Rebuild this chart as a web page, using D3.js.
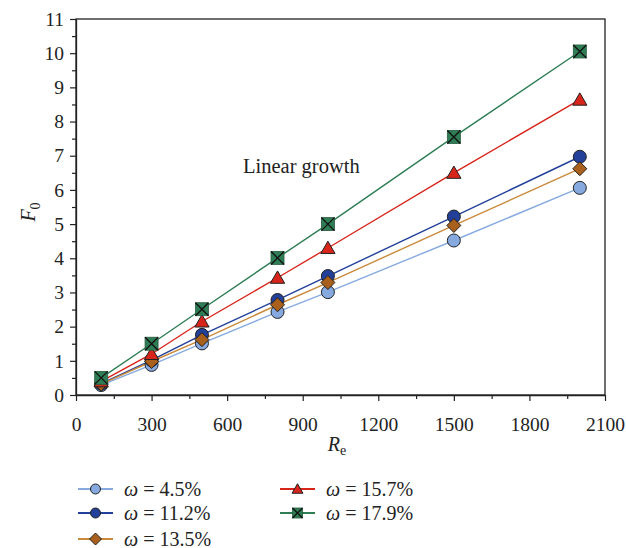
<!DOCTYPE html>
<html><head><meta charset="utf-8">
<script src="https://cdn.jsdelivr.net/npm/d3@7"></script>
<style>body{margin:0;background:#fff}svg{display:block}text{font-family:"Liberation Serif","DejaVu Serif",serif;fill:#222}</style>
</head><body>
<svg id="c" width="626" height="548"></svg>
<script>
const reValues = [100, 300, 500, 800, 1000, 1500, 2000];
const seriesNames = ["4.5%", "11.2%", "13.5%", "15.7%", "17.9%"];
const w45  = [0.29, 0.88, 1.51, 2.43, 3.01, 4.52, 6.06];
const w112 = [0.33, 1.02, 1.76, 2.78, 3.48, 5.22, 6.97];
const w135 = [0.32, 0.98, 1.62, 2.64, 3.29, 4.96, 6.62];
const w157 = [0.40, 1.20, 2.15, 3.43, 4.30, 6.50, 8.64];
const w179 = [0.50, 1.50, 2.51, 4.01, 5.00, 7.55, 10.05];
const xTicks = [0, 300, 600, 900, 1200, 1500, 1800, 2100];
const yTicks = [0,1,2,3,4,5,6,7,8,9,10,11];

const styles = [
  {line:"#86aae0", fill:"#86aae0", sym:"circle"},
  {line:"#22409a", fill:"#22409a", sym:"circle"},
  {line:"#c98a3c", fill:"#a8601c", sym:"diamond"},
  {line:"#d8251c", fill:"#d8251c", sym:"triangle"},
  {line:"#2e7d55", fill:"#2e7d55", sym:"xsquare"}
];
const data = [w45, w112, w135, w157, w179];

const svg = d3.select("#c");
const L=76, R=605, T=19, B=395;
const x = d3.scaleLinear().domain([0,2100]).range([L,R]);
const y = d3.scaleLinear().domain([0,11]).range([B,T]);

// frame
svg.append("rect").attr("x",L).attr("y",T).attr("width",R-L).attr("height",B-T)
  .attr("fill","none").attr("stroke","#222").attr("stroke-width",1.3);

// axes
const xa = svg.append("g").attr("transform",`translate(0,${B})`)
  .call(d3.axisBottom(x).tickValues(d3.range(0,2101,150)).tickSize(0).tickFormat(""));
xa.selectAll(".tick line").attr("y2", d=> d%300===0?6:4).attr("stroke","#222").attr("stroke-width",1.2);
xa.select(".domain").attr("stroke","#222").attr("stroke-width",1.3);
const xl = svg.append("g").attr("transform",`translate(0,${B})`)
  .call(d3.axisBottom(x).tickValues(xTicks).tickSize(0).tickPadding(22).tickFormat(d3.format("d")));
xl.select(".domain").remove();
xl.selectAll("text").attr("font-size",19.5).attr("font-family","Liberation Serif").attr("fill","#222");

const ya = svg.append("g").attr("transform",`translate(${L},0)`)
  .call(d3.axisLeft(y).tickValues(d3.range(0,11.01,0.5)).tickSize(0).tickFormat(""));
ya.selectAll(".tick line").attr("x2", d=> Number.isInteger(d)?-6:-4).attr("stroke","#222").attr("stroke-width",1.2);
ya.select(".domain").attr("stroke","#222").attr("stroke-width",1.3);
const yl = svg.append("g").attr("transform",`translate(${L},0)`)
  .call(d3.axisLeft(y).tickValues(yTicks).tickSize(0).tickPadding(12).tickFormat(d3.format("d")));
yl.select(".domain").remove();
yl.selectAll("text").attr("font-size",19.5).attr("font-family","Liberation Serif").attr("fill","#222");

// labels
const yt = svg.append("text").attr("transform","translate(35,212) rotate(-90)").attr("text-anchor","middle").attr("font-size",20);
yt.append("tspan").attr("font-style","italic").text("F");
yt.append("tspan").attr("font-size",14).attr("dy",5).text("0");
const xt = svg.append("text").attr("x",337).attr("y",451).attr("text-anchor","middle").attr("font-size",20);
xt.append("tspan").attr("font-style","italic").text("R");
xt.append("tspan").attr("font-size",14).attr("dy",4).text("e");

svg.append("text").attr("x",243).attr("y",173).attr("font-size",20.5).text("Linear growth");

function marker(g, sym, cx, cy, s, st){
  if(sym==="circle"){
    g.append("circle").attr("cx",cx).attr("cy",cy).attr("r",s).attr("fill",st.fill).attr("stroke","#222").attr("stroke-width",1);
  } else if(sym==="diamond"){
    g.append("path").attr("d",`M${cx},${cy-s}L${cx+s},${cy}L${cx},${cy+s}L${cx-s},${cy}Z`).attr("fill",st.fill).attr("stroke","#222").attr("stroke-width",1);
  } else if(sym==="triangle"){
    g.append("path").attr("d",`M${cx},${cy-s*1.05}L${cx+s*1.1},${cy+s*0.85}L${cx-s*1.1},${cy+s*0.85}Z`).attr("fill",st.fill).attr("stroke","#222").attr("stroke-width",1);
  } else {
    g.append("rect").attr("x",cx-s).attr("y",cy-s).attr("width",2*s).attr("height",2*s).attr("fill",st.fill).attr("stroke","#2a5a3e").attr("stroke-width",0.8);
    g.append("path").attr("d",`M${cx-s},${cy-s}L${cx+s},${cy+s}M${cx+s},${cy-s}L${cx-s},${cy+s}`).attr("stroke","#111").attr("stroke-width",1.3);
  }
}

const line = d3.line().x((d,i)=>x(reValues[i])).y(d=>y(d));
data.forEach((vals,k)=>{
  svg.append("path").datum(vals).attr("d",line).attr("fill","none").attr("stroke",styles[k].line).attr("stroke-width",1.4);
});
data.forEach((vals,k)=>{
  const g = svg.append("g");
  vals.forEach((v,i)=> marker(g, styles[k].sym, x(reValues[i]), y(v), styles[k].sym==="diamond"?7:6.5, styles[k]));
});

// legend
const legPos = [[78,489],[78,513],[78,539],[280,489],[280,513]];
seriesNames.forEach((n,k)=>{
  const [lx,ly] = legPos[k];
  const g = svg.append("g");
  g.append("line").attr("x1",lx).attr("x2",lx+35).attr("y1",ly).attr("y2",ly).attr("stroke",styles[k].line).attr("stroke-width",2.2);
  marker(g, styles[k].sym, lx+17.5, ly, styles[k].sym==="diamond"?6:5, styles[k]);
  const t = g.append("text").attr("x",lx+46).attr("y",ly+6.5).attr("font-size",20);
  t.append("tspan").attr("font-style","italic").text("ω");
  t.append("tspan").text(" = " + n);
});
</script>
</body></html>
